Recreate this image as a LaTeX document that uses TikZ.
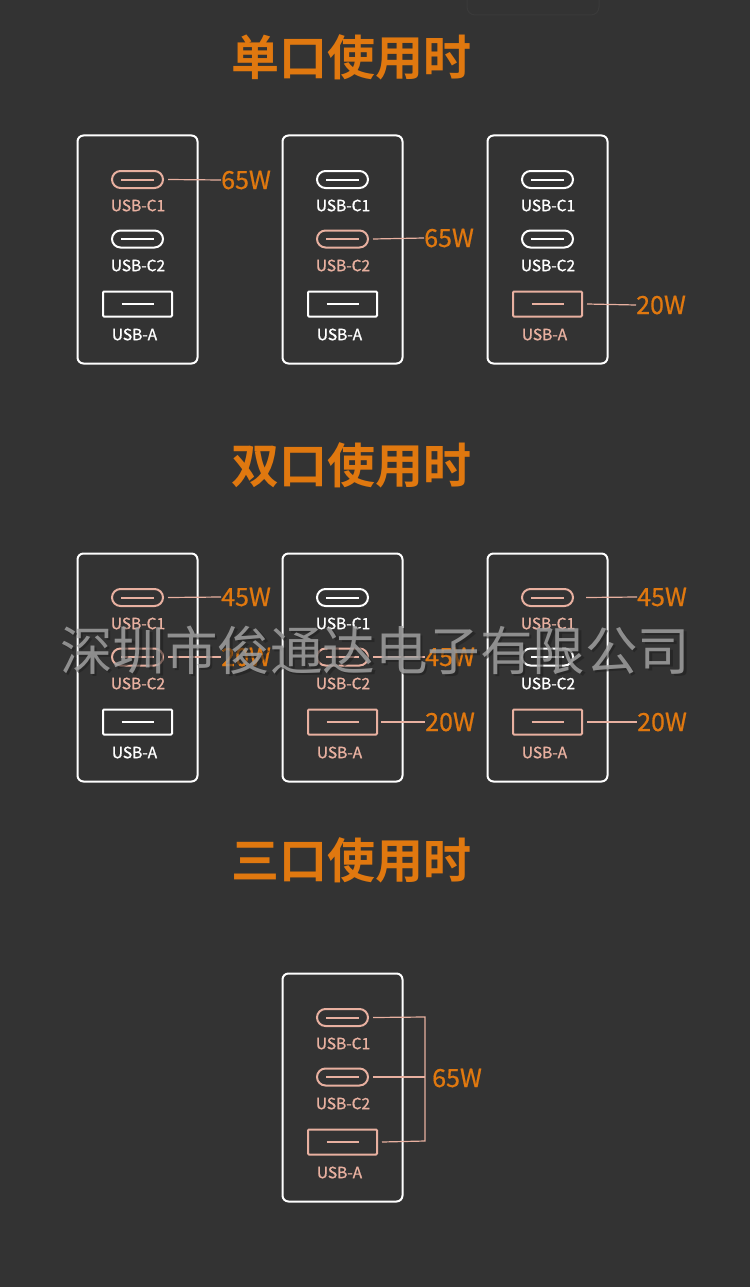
\documentclass[tikz,border=0pt]{standalone}
\usepackage{fontspec}
\newfontfamily\cjk{Noto Sans CJK SC}
\newfontfamily\cjkm{Noto Sans CJK SC}[FakeBold=1.2]
\newfontfamily\cjkw{Noto Sans CJK SC}[FakeBold=0.6]
\newfontfamily\cjkb{Noto Sans CJK SC Bold}
\usetikzlibrary{shapes.misc}
\definecolor{bg}{HTML}{333333}
\definecolor{org}{HTML}{E0780F}
\definecolor{pnk}{HTML}{E8B0A0}
\definecolor{wm}{HTML}{A0A0A0}
\definecolor{wmsh}{HTML}{1E1E1E}
\tikzset{
  case/.style={draw=white, line width=2pt, rounded corners=6pt, minimum width=120pt, minimum height=228pt, inner sep=0pt},
  tport/.style={draw=#1, line width=2pt, rounded rectangle, minimum width=51pt, minimum height=17pt, inner sep=0pt,
    path picture={\draw[#1, line width=2pt] ([xshift=9pt]path picture bounding box.west) -- ([xshift=-9pt]path picture bounding box.east);}},
  aport/.style={draw=#1, line width=2pt, rounded corners=1pt, minimum width=69pt, minimum height=25pt, inner sep=0pt,
    path picture={\draw[#1, line width=2pt] ([xshift=18.5pt]path picture bounding box.west) -- ([xshift=-18.5pt]path picture bounding box.east);}},
  plabel/.style={text=#1, font=\cjkm\fontsize{15.5}{15.5}\selectfont, inner sep=0pt},
  watt/.style={text=org, font=\cjkw\fontsize{25}{25}\selectfont, inner sep=0pt, anchor=west},
  lead/.style={draw=pnk, line width=1.2pt},
  title/.style={text=org, font=\cjkb\fontsize{48}{48}\selectfont, inner sep=0pt},
}
\newcommand\charger[6]{%
  \node[case] (#1) at ({#2},{#3+114.5}) {};
  \node[tport=#4] (#1c1) at ({#2},{#3+44.5}) {};
  \node[plabel=#4] (#1l1) at ({#2+0.5},{#3+70.5}) {USB-C1};
  \node[tport=#5] (#1c2) at ({#2},{#3+104}) {};
  \node[plabel=#5] (#1l2) at ({#2+0.5},{#3+130.5}) {USB-C2};
  \node[aport=#6] (#1a) at ({#2},{#3+169}) {};
  \node[plabel=#6] (#1la) at ({#2-3},{#3+199.5}) {USB-A};
}
\begin{document}
\begin{tikzpicture}[x=1pt,y=-1pt]
\fill[bg] (0,0) rectangle (750,1287);
\useasboundingbox (0,0) rectangle (750,1287);
% faint remnant at top
\draw[draw=white, opacity=0.035, line width=1pt, rounded corners=8pt] (467,-20) rectangle (599,15);

% titles
\node[title] (t1) at (351,57) {单口使用时};
\node[title] (t2) at (351,465) {双口使用时};
\node[title] (t3) at (351,860) {三口使用时};

% row 1
\charger{a1}{137.5}{135}{pnk}{white}{white}
\charger{a2}{342.5}{135}{white}{pnk}{white}
\charger{a3}{547.5}{135}{white}{white}{pnk}
\node[watt] (wa1) at (221,180) {65W};
\node[watt] (wa2) at (424,238) {65W};
\node[watt] (wa3) at (636,305) {20W};
\draw[lead] ([xshift=4pt]a1c1.east) -- (wa1.west);
\draw[lead] ([xshift=4pt]a2c2.east) -- (wa2.west);
\draw[lead] ([xshift=4pt]a3a.east) -- (wa3.west);

% row 2
\charger{b1}{137.5}{553}{pnk}{pnk}{white}
\charger{b2}{342.5}{553}{white}{pnk}{pnk}
\charger{b3}{547.5}{553}{pnk}{white}{pnk}
\node[watt] (wb11) at (221,597) {45W};
\node[watt] (wb12) at (221,657) {20W};
\node[watt] (wb22) at (425,657) {45W};
\node[watt] (wb23) at (425,722) {20W};
\node[watt] (wb31) at (637,597) {45W};
\node[watt] (wb33) at (637,722) {20W};
\draw[lead] ([xshift=4pt]b1c1.east) -- (wb11.west);
\draw[lead] ([xshift=4pt]b1c2.east) -- (wb12.west);
\draw[lead] ([xshift=4pt]b2c2.east) -- (wb22.west);
\draw[lead] ([xshift=3pt]b2a.east) -- (wb23.west);
\draw[lead] ([xshift=12pt]b3c1.east) -- (wb31.west);
\draw[lead] ([xshift=4pt]b3a.east) -- (wb33.west);

% row 3
\charger{c}{342.5}{973}{pnk}{pnk}{pnk}
\coordinate (brt) at (425,1017);
\coordinate (brb) at (425,1141);
\node[watt] (wc) at (432,1078) {65W};
\draw[lead] ([xshift=4pt]cc1.east) -- (brt) -- (brb) -- ([xshift=4pt]ca.east);
\draw[lead] ([xshift=4pt]cc2.east) -- (cc2.east -| brt);

% watermark
\node[text=wmsh, opacity=0.55, inner sep=0pt, font=\cjk\fontsize{52.5}{52.5}\selectfont] (wms) at (377.5,652.5) {深圳市俊通达电子有限公司};
\node[text=wm, opacity=0.85, inner sep=0pt, font=\cjk\fontsize{52.5}{52.5}\selectfont] (wmk) at (375,650) {深圳市俊通达电子有限公司};
\end{tikzpicture}
\end{document}
